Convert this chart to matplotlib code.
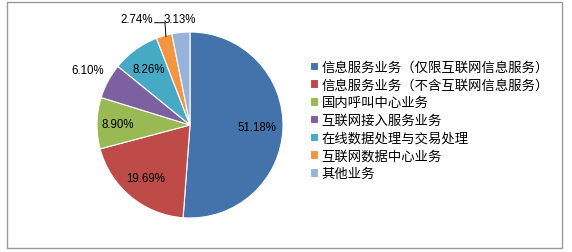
import matplotlib.pyplot as plt
from matplotlib.patches import Rectangle
import numpy as np

# data
categories = ['信息服务业务（仅限互联网信息服务）', '信息服务业务（不含互联网信息服务）',
              '国内呼叫中心业务', '互联网接入服务业务', '在线数据处理与交易处理',
              '互联网数据中心业务', '其他业务']
shares = [51.18, 19.69, 8.90, 6.10, 8.26, 2.74, 3.13]
colors = ['#4472AA', '#BE4B48', '#98B954', '#7D60A0', '#46AAC5', '#F49542', '#97B3DA']

plt.rcParams['font.family'] = ['Noto Sans CJK SC', 'DejaVu Sans']

fig = plt.figure(figsize=(5.72, 2.53), dpi=100)
fig.patch.set_facecolor('white')

# outer frame
fig.patches.append(Rectangle((7 / 572, 4 / 253), 555 / 572, 246 / 253, transform=fig.transFigure,
                             fill=False, edgecolor='#9a9a9a', linewidth=1.0))

ax = fig.add_axes([97 / 572, 34 / 253, 186 / 572, 186 / 253])
wedges, texts = ax.pie(shares, colors=colors, startangle=90, counterclock=False,
                       wedgeprops=dict(edgecolor='white', linewidth=0.8))
ax.set_xlim(-1, 1)
ax.set_ylim(-1, 1)
ax.set_aspect('equal')

# percentage labels: radius factor per slice (outside labels > 1)
label_r = [0.72, 0.74, 0.78, 1.25, 0.75, None, 1.15]
for w, val, r in zip(wedges, shares, label_r):
    mid = np.deg2rad((w.theta1 + w.theta2) / 2)
    txt = '%.2f%%' % val
    x0, y0 = np.cos(mid), np.sin(mid)
    if r is None:
        # small slice: label to the left with an elbow leader line
        ax.text(x0 - 0.12, 1.14, txt, ha='right', va='center', fontsize=8.3,
                family='Liberation Sans', color='black')
        ax.plot([x0 - 0.1, x0 + 0.01, x0 + 0.02], [1.1, 1.1, y0 * 0.99],
                color='black', lw=0.7, clip_on=False)
    else:
        ax.text(x0 * r, y0 * r, txt, ha='center', va='center',
                fontsize=8.3, family='Liberation Sans', color='black')

fig.legend(wedges, categories, loc='upper left', bbox_to_anchor=(303 / 572, 1 - 54 / 253),
           frameon=False, fontsize=9.6, handlelength=0.6, handleheight=0.6,
           handletextpad=0.3, labelspacing=0.28, borderpad=0)

plt.savefig('out.png', dpi=100)
